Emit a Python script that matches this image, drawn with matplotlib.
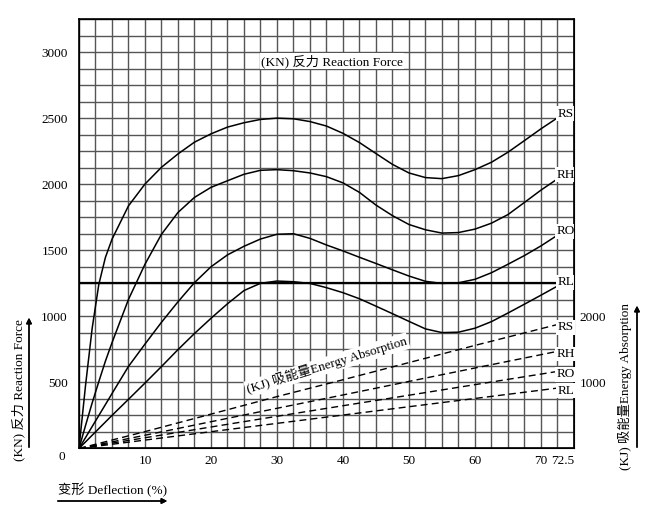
import matplotlib.pyplot as plt
from matplotlib.ticker import MultipleLocator
from matplotlib.transforms import ScaledTranslation

# ---------- data ----------
deflection = [0, 1, 2, 3, 4, 5, 7.5, 10, 12.5, 15, 17.5, 20, 22.5, 25, 27.5, 30, 32.5,
              35, 37.5, 40, 42.5, 45, 47.5, 50, 52.5, 55, 57.5, 60, 62.5, 65, 67.5, 70, 72.5]

force_rs = [0, 480, 910, 1240, 1445, 1583, 1836, 2001, 2128, 2229, 2318, 2381, 2432, 2465, 2490, 2500, 2495,
            2474, 2440, 2385, 2315, 2232, 2150, 2085, 2050, 2042, 2065, 2110, 2166, 2242, 2330, 2419, 2502]
force_rh = [0, 175, 345, 505, 660, 800, 1128, 1394, 1621, 1786, 1900, 1976, 2026, 2075, 2105, 2110, 2102,
            2085, 2057, 2010, 1938, 1842, 1762, 1695, 1655, 1630, 1634, 1660, 1705, 1770, 1862, 1955, 2040]
force_ro = [0, 83, 166, 249, 332, 415, 621, 790, 955, 1110, 1255, 1375, 1465, 1530, 1585, 1621, 1625,
            1590, 1540, 1495, 1447, 1400, 1352, 1305, 1265, 1249, 1254, 1280, 1330, 1394, 1460, 1533, 1614]
force_rl = [0, 50, 100, 150, 200, 250, 372, 495, 620, 748, 870, 985, 1095, 1195, 1250, 1267, 1262,
            1249, 1217, 1179, 1133, 1077, 1020, 962, 905, 877, 880, 910, 960, 1025, 1092, 1160, 1229]

energy_x = [0, 10, 20, 30, 40, 50, 60, 72.5]
energy_rs = [0, 255, 520, 785, 1040, 1300, 1560, 1876]
energy_rh = [0, 200, 405, 608, 810, 1015, 1218, 1470]
energy_ro = [0, 162, 325, 487, 647, 806, 966, 1166]
energy_rl = [0, 127, 254, 380, 506, 632, 757, 914]

grades = ['RS', 'RH', 'RO', 'RL']
forces = [force_rs, force_rh, force_ro, force_rl]
energies = [energy_rs, energy_rh, energy_ro, energy_rl]

x_ticks = [10, 20, 30, 40, 50, 60, 70, 72.5]
x_labels = ['10', '20', '30', '40', '50', '60', '70', '72.5']
force_ticks = [500, 1000, 1500, 2000, 2500, 3000]
energy_ticks = [1000, 2000]

plt.rcParams['font.family'] = ['Liberation Serif', 'Noto Sans CJK SC', 'DejaVu Sans']
plt.rcParams['font.size'] = 9.5

fig = plt.figure(figsize=(6.5, 5.21), dpi=100)
ax = fig.add_axes([0.1215, 0.1392, 0.7615, 0.8243])

ax.set_xlim(0, 75)
ax.set_ylim(0, 3250)
ax.xaxis.set_minor_locator(MultipleLocator(2.5))
ax.yaxis.set_minor_locator(MultipleLocator(125))
ax.set_xticks(x_ticks)
ax.set_xticklabels(x_labels)
ax.set_yticks(force_ticks)
ax.grid(which='both', color='#555555', lw=1.0)
ax.axhline(1250, color='black', lw=1.6)
ax.tick_params(which='both', length=0)
ax.tick_params(axis='x', pad=5)
ax.tick_params(axis='y', pad=8)
for sp in ax.spines.values():
    sp.set_linewidth(1.2)

# 72.5 sits a bit right of its grid line
lab = ax.get_xticklabels()[-1]
lab.set_transform(lab.get_transform() + ScaledTranslation(5/100, 0, fig.dpi_scale_trans))

bx = dict(facecolor='white', edgecolor='none', pad=1)

for name, f in zip(grades, forces):
    ax.plot(deflection, f, color='black', lw=1.1)
    ax.text(73.75, f[-1] + 30, name, ha='center', va='center', bbox=bx)

ax2 = ax.twinx()
ax2.set_ylim(0, 6500)
ax2.set_yticks(energy_ticks)
ax2.tick_params(length=0, pad=4)
for name, e in zip(grades, energies):
    ax2.plot(energy_x, e, color='black', lw=1.0, dashes=(5, 3))
    ax2.text(73.75, e[-1] - 40, name, ha='center', va='center', bbox=bx)

ax.text(0.511, 0.902, '(KN) 反力 Reaction Force', transform=ax.transAxes,
        ha='center', va='center', bbox=bx)
ax2.text(0.501, 0.194, '(KJ) 吸能量Energy Absorption', transform=ax.transAxes,
         ha='center', va='center', rotation=17, bbox=bx)

# outer labels and arrows
fig.text(62/650, 1-457/521, '0', ha='center', va='center')
fig.text(18/650, 1-390/521, '(KN) 反力 Reaction Force', rotation=90, ha='center', va='center')
fig.text(58/650, 1-490/521, '变形 Deflection (%)', ha='left', va='center')
fig.text(625/650, 1-386/521, '(KJ) 吸能量Energy Absorption', rotation=90, ha='center', va='center')

arrow = dict(arrowstyle='-|>', color='black', lw=1.0, mutation_scale=8)
fig.add_artist(plt.annotate('', xy=(29/650, 1-315/521), xytext=(29/650, 1-450/521),
                            xycoords='figure fraction', arrowprops=arrow))
fig.add_artist(plt.annotate('', xy=(170/650, 1-501/521), xytext=(55/650, 1-501/521),
                            xycoords='figure fraction', arrowprops=arrow))
fig.add_artist(plt.annotate('', xy=(637/650, 1-303/521), xytext=(637/650, 1-450/521),
                            xycoords='figure fraction', arrowprops=arrow))

fig.savefig('out.png', dpi=100)
